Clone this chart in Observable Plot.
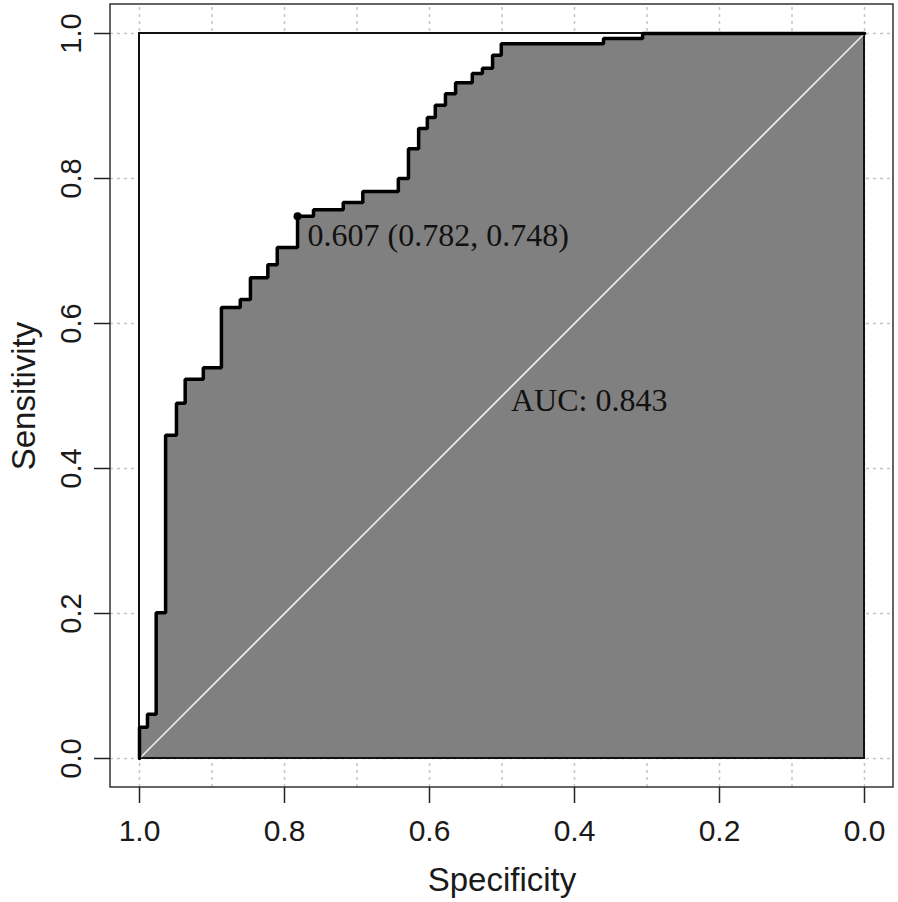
<!DOCTYPE html>
<html><head><meta charset="utf-8">
<script src="https://cdn.jsdelivr.net/npm/d3@7"></script>
<script src="https://cdn.jsdelivr.net/npm/@observablehq/plot@0.6"></script>
<style>html,body{margin:0;padding:0;background:#fff;overflow:hidden}</style>
</head><body><div id="chart"></div>
<script>
// ROC curve vertices (specificity, sensitivity)
const specificity = [1.000, 1.000, 0.989, 0.989, 0.977, 0.977, 0.964, 0.964, 0.949, 0.949,
  0.937, 0.937, 0.912, 0.912, 0.887, 0.887, 0.861, 0.861, 0.847, 0.847,
  0.823, 0.823, 0.810, 0.810, 0.782, 0.782, 0.760, 0.760, 0.719, 0.719,
  0.692, 0.692, 0.643, 0.643, 0.629, 0.629, 0.615, 0.615, 0.603, 0.603,
  0.592, 0.592, 0.578, 0.578, 0.564, 0.564, 0.541, 0.541, 0.527, 0.527,
  0.513, 0.513, 0.501, 0.501, 0.360, 0.360, 0.306, 0.306, 0.000];
const sensitivity = [0.000, 0.043, 0.043, 0.061, 0.061, 0.201, 0.201, 0.446, 0.446, 0.490,
  0.490, 0.523, 0.523, 0.539, 0.539, 0.622, 0.622, 0.633, 0.633, 0.663,
  0.663, 0.681, 0.681, 0.705, 0.705, 0.748, 0.748, 0.757, 0.757, 0.767,
  0.767, 0.782, 0.782, 0.800, 0.800, 0.841, 0.841, 0.869, 0.869, 0.884,
  0.884, 0.901, 0.901, 0.917, 0.917, 0.932, 0.932, 0.945, 0.945, 0.952,
  0.952, 0.970, 0.970, 0.986, 0.986, 0.993, 0.993, 1.000, 1.000];

// best threshold point
const bestThreshold = [{spec: 0.782, sens: 0.748, label: "0.607 (0.782, 0.748)"}];
const aucLabel = [{spec: 0.5, sens: 0.5, label: "AUC: 0.843"}];
const identity = [{spec: 1, sens: 0}, {spec: 0, sens: 1}];
const xTicks = [1.0, 0.8, 0.6, 0.4, 0.2, 0.0];
const yTicks = [0.0, 0.2, 0.4, 0.6, 0.8, 1.0];
const xGrid = [1.0, 0.9, 0.8, 0.7, 0.6, 0.5, 0.4, 0.3, 0.2, 0.1, 0.0];
const yGrid = [0.0, 0.2, 0.4, 0.6, 0.8, 1.0];
const pad = 0.04; // R's axis extension
const plotBox = [{x1: 1 + pad, x2: -pad, y1: -pad, y2: 1 + pad}];
const maxBox = [{x1: 1, x2: 0, y1: 0, y2: 1}];

const roc = specificity.map((s, i) => ({spec: s, sens: sensitivity[i]}));
const fmt = d3.format(".1f");
const sans = "'Liberation Sans', Arial, sans-serif";
const serif = "'Liberation Serif', 'Times New Roman', serif";

const chart = Plot.plot({
  width: 898,
  height: 902,
  marginLeft: 139,
  marginRight: 34,
  marginTop: 33,
  marginBottom: 144,
  x: {domain: [1, 0]},
  y: {domain: [0, 1]},
  style: {fontFamily: sans, fontSize: "30px", background: "white", color: "#1a1a1a"},
  marks: [
    // dotted grid
    Plot.ruleX(xGrid, {x: d => d, y1: () => -pad, y2: () => 1 + pad, stroke: "#c4c4c4", strokeWidth: 1.5, strokeDasharray: "3,4"}),
    Plot.ruleY(yGrid, {y: d => d, x1: () => 1 + pad, x2: () => -pad, stroke: "#c4c4c4", strokeWidth: 1.5, strokeDasharray: "3,4"}),
    // max AUC polygon
    Plot.rect(maxBox, {x1: "x1", x2: "x2", y1: "y1", y2: "y2", fill: "white", stroke: "#111", strokeWidth: 2}),
    // AUC polygon
    Plot.areaY(roc, {x: "spec", y1: () => 0, y2: "sens", fill: "#808080"}),
    Plot.rect(maxBox, {x1: "x1", x2: "x2", y1: "y1", y2: "y2", fill: "none", stroke: "#111", strokeWidth: 2}),
    // identity line
    Plot.line(identity, {x: "spec", y: "sens", stroke: "#ececec", strokeWidth: 1.6}),
    // ROC curve
    Plot.line(roc, {x: "spec", y: "sens", stroke: "#000", strokeWidth: 3.5, strokeLinejoin: "miter"}),
    Plot.dot(bestThreshold, {x: "spec", y: "sens", r: 4, fill: "#000"}),
    Plot.text(bestThreshold, {x: "spec", y: "sens", text: "label", textAnchor: "start", lineAnchor: "bottom", dx: 10, dy: 30, fontFamily: serif, fontSize: 32, fill: "#111"}),
    Plot.text(aucLabel, {x: "spec", y: "sens", text: "label", textAnchor: "start", lineAnchor: "bottom", dx: 9, dy: 15, fontFamily: serif, fontSize: 32, fill: "#111"}),
    // plot box
    Plot.rect(plotBox, {x1: "x1", x2: "x2", y1: "y1", y2: "y2", fill: "none", stroke: "#333", strokeWidth: 1.5}),
    // axis ticks
    Plot.axisX({ticks: xTicks, tickSize: 16, dy: 29, fill: "none", stroke: "#222", strokeWidth: 1.5, label: null}),
    Plot.axisY({ticks: yTicks, tickSize: 16, dx: -29, fill: "none", stroke: "#222", strokeWidth: 1.5, label: null}),
    // tick labels
    Plot.text(xTicks, {x: d => d, frameAnchor: "bottom", text: d => fmt(d), textAnchor: "middle", lineAnchor: "bottom", dy: 82, fontSize: 30, fill: "#1a1a1a"}),
    Plot.text(yTicks, {y: d => d, frameAnchor: "left", text: d => fmt(d), rotate: -90, textAnchor: "middle", lineAnchor: "bottom", dx: -59, fontSize: 29, fill: "#1a1a1a"}),
    // axis titles
    Plot.text(["Specificity"], {frameAnchor: "bottom", text: d => d, textAnchor: "middle", lineAnchor: "bottom", dy: 132, fontSize: 33, fill: "#1a1a1a"}),
    Plot.text(["Sensitivity"], {frameAnchor: "left", text: d => d, rotate: -90, textAnchor: "middle", lineAnchor: "bottom", dx: -105, fontSize: 33, fill: "#1a1a1a"})
  ]
});
document.getElementById("chart").appendChild(chart);
</script></body></html>
